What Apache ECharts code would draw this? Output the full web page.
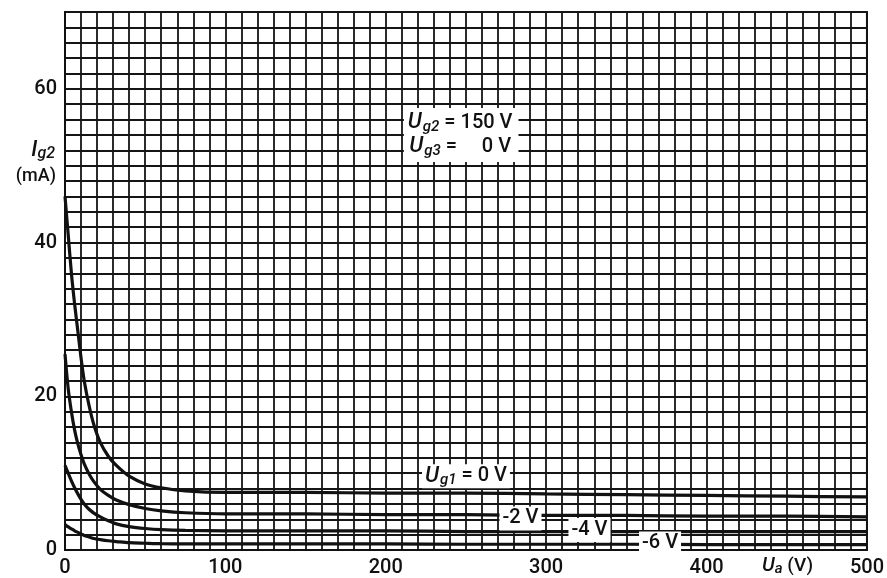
<!DOCTYPE html>
<html>
<head>
<meta charset="utf-8">
<script src="https://cdn.jsdelivr.net/npm/echarts@6/dist/echarts.min.js"></script>
<style>
  html, body { margin: 0; padding: 0; background: #fff; }
  #chart { width: 887px; height: 578px; }
</style>
</head>
<body>
<div id="chart"></div>
<script>
// anode voltage Ua (V) where the curves were read
const uaPoints = [0, 2, 4, 6, 8, 10, 12, 15, 18, 22, 27, 32, 40, 50, 60, 75, 100, 150, 200, 250, 300, 350, 400, 450, 500];

// screen grid current Ig2 (mA) for each Ug1
const ig2_0V  = [46, 41, 36, 32, 28.5, 25, 22, 18.8, 16.3, 14.0, 12.2, 11.0, 9.6, 8.6, 8.1, 7.7, 7.5, 7.5, 7.4, 7.4, 7.3, 7.2, 7.1, 7.0, 6.9];
const ig2_m2V = [25.5, 21, 18, 15.6, 13.8, 12.4, 11.2, 9.9, 8.9, 7.9, 7.1, 6.5, 5.9, 5.4, 5.1, 4.85, 4.7, 4.7, 4.6, 4.6, 4.5, 4.5, 4.4, 4.4, 4.3];
const ig2_m4V = [11, 10, 9, 8.1, 7.3, 6.6, 6.0, 5.3, 4.8, 4.3, 3.8, 3.4, 3.05, 2.8, 2.65, 2.55, 2.5, 2.5, 2.5, 2.4, 2.4, 2.4, 2.4, 2.4, 2.4];
const ig2_m6V = [3.3, 3.0, 2.75, 2.5, 2.3, 2.1, 1.9, 1.7, 1.5, 1.35, 1.2, 1.1, 0.95, 0.88, 0.82, 0.8, 0.8, 0.8, 0.8, 0.75, 0.75, 0.75, 0.7, 0.7, 0.7];

const curveNames = ['0 V', '-2 V', '-4 V', '-6 V'];
const curveValues = [ig2_0V, ig2_m2V, ig2_m4V, ig2_m6V];

const xTickLabels = [0, 100, 200, 300, 400, 500];
const yTickLabels = [0, 20, 40, 60];

// where the curve labels sit (data coords)
const labelAt = [[250, 9.6], [284, 4.1], [327, 2.6], [371, 0.85]];
const paramAt = [247, 54];

const font = 'Roboto';
const ink = '#111';
const rich = {
  u: { fontFamily: font, fontSize: 22, fontStyle: 'italic', fontWeight: 500, fill: ink, lineHeight: 24 },
  s: { fontFamily: font, fontSize: 15, fontStyle: 'italic', fontWeight: 500, fill: ink, lineHeight: 24, padding: [9, 0, 0, 1] },
  t: { fontFamily: font, fontSize: 20, fontWeight: 500, fill: ink, lineHeight: 24 }
};

const labelTexts = [
  '{u|U}{s|g1}{t| = 0 V}',
  '{t|-2 V}',
  '{t|-4 V}',
  '{t|-6 V}'
];
const paramText = '{u|U}{s|g2}{t| = 150 V}\n{u|U}{s|g3}{t| =     0 V}';

const chart = echarts.init(document.getElementById('chart'));

const curveSeries = curveValues.map((vals, k) => ({
  name: curveNames[k],
  type: 'line',
  data: uaPoints.map((u, i) => [u, vals[i]]),
  showSymbol: false,
  smooth: 0.3,
  lineStyle: { color: ink, width: 3.2 },
  z: 3
}));

const axisFont = { color: ink, fontFamily: font, fontSize: 20, fontWeight: 500 };

chart.setOption({
  animation: false,
  backgroundColor: '#fff',
  grid: { left: 65, right: 19, top: 12, bottom: 28, show: true, borderColor: ink, borderWidth: 2 },
  xAxis: {
    type: 'value', min: 0, max: 500, interval: 10,
    axisLine: { show: true, lineStyle: { color: ink, width: 2 } },
    axisTick: { show: false },
    axisLabel: Object.assign({
      margin: 8,
      formatter: v => xTickLabels.indexOf(v) >= 0 ? String(v) : ''
    }, axisFont),
    splitLine: { show: true, lineStyle: { color: '#151515', width: 1.8 } }
  },
  yAxis: {
    type: 'value', min: 0, max: 70, interval: 2,
    axisLine: { show: true, lineStyle: { color: ink, width: 2 } },
    axisTick: { show: false },
    axisLabel: Object.assign({
      margin: 8,
      formatter: v => yTickLabels.indexOf(v) >= 0 ? String(v) : ''
    }, axisFont),
    splitLine: { show: true, lineStyle: { color: '#151515', width: 1.8 } }
  },
  series: curveSeries
});

// annotations placed through the axes' own conversion
function note(pos, text, pad) {
  const p = chart.convertToPixel({ gridIndex: 0 }, pos);
  return {
    type: 'text', x: p[0], y: p[1], z: 10,
    style: {
      text: text, rich: rich, align: 'center', verticalAlign: 'middle',
      backgroundColor: '#fff', padding: pad
    }
  };
}

const notes = labelTexts.map((t, k) => note(labelAt[k], t, [0, 3, 0, 3]));
notes.push(note(paramAt, paramText, [3, 6, 3, 4]));

notes.push(
  { type: 'text', x: 55, y: 138, style: { text: '{u|I}{s|g2}', align: 'right', rich: {
    u: { fontFamily: font, fontSize: 22, fontStyle: 'italic', fontWeight: 500, fill: ink, lineHeight: 24 },
    s: { fontFamily: font, fontSize: 16, fontStyle: 'italic', fontWeight: 500, fill: ink, lineHeight: 24, padding: [8, 0, 0, 0] }
  } } },
  { type: 'text', x: 56, y: 167, style: { text: '(mA)', fontFamily: font, fontSize: 18, fontWeight: 500, fill: ink, align: 'right' } },
  { type: 'text', x: 762, y: 555, style: { text: '{u|U}{s|a}{t| (V)}', rich: {
    u: { fontFamily: font, fontSize: 20, fontStyle: 'italic', fontWeight: 500, fill: ink, lineHeight: 22 },
    s: { fontFamily: font, fontSize: 15, fontStyle: 'italic', fontWeight: 500, fill: ink, lineHeight: 22, padding: [7, 0, 0, 0] },
    t: { fontFamily: font, fontSize: 19, fontWeight: 500, fill: ink, lineHeight: 22 }
  } } }
);

chart.setOption({ graphic: notes });
</script>
</body>
</html>
